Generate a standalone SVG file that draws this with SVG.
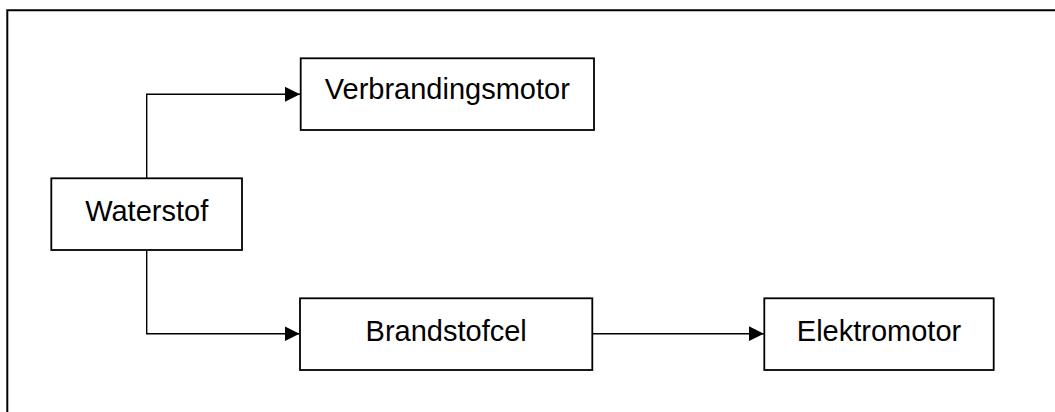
<svg xmlns="http://www.w3.org/2000/svg" width="1055" height="412" viewBox="0 0 1055 412">
  <style>
    .box { fill: #ffffff; stroke: #000000; stroke-width: 1.8; }
    .frame { fill: none; stroke: #000000; stroke-width: 2; }
    .link { fill: none; stroke: #000000; stroke-width: 1.4; }
    .label { font-family: "Liberation Sans", Arial, sans-serif; font-size: 29px; fill: #000000; text-anchor: middle; }
  </style>
  <defs>
    <marker id="arrow" markerUnits="userSpaceOnUse" markerWidth="16" markerHeight="16" refX="15" refY="7.5" orient="auto">
      <path d="M0,0 L15,7.5 L0,15 Z" fill="#000000"/>
    </marker>
  </defs>

  <rect width="1055" height="412" fill="#ffffff"/>

  <!-- surrounding frame, open to the right and bottom -->
  <path class="frame" d="M7.3,412 L7.3,10.3 L1055,10.3"/>

  <g id="connectors">
    <path class="link" d="M146.7,178.3 L146.7,94.3 L300,94.3" marker-end="url(#arrow)"/>
    <path class="link" d="M146.7,250 L146.7,333.7 L299.5,333.7" marker-end="url(#arrow)"/>
    <path class="link" d="M592.3,333.7 L763.8,333.7" marker-end="url(#arrow)"/>
  </g>

  <g id="waterstof">
    <rect class="box" x="51.3" y="178.3" width="190.7" height="71.7"/>
    <text class="label" x="146.7" y="221">Waterstof</text>
  </g>

  <g id="verbrandingsmotor">
    <rect class="box" x="300.7" y="58.3" width="293.3" height="71.7"/>
    <text class="label" x="447.3" y="98.5">Verbrandingsmotor</text>
  </g>

  <g id="brandstofcel">
    <rect class="box" x="300" y="298.3" width="292.3" height="71.7"/>
    <text class="label" x="446.2" y="340.7">Brandstofcel</text>
  </g>

  <g id="elektromotor">
    <rect class="box" x="764.3" y="298.3" width="229.4" height="71.7"/>
    <text class="label" x="879" y="340.7">Elektromotor</text>
  </g>
</svg>
